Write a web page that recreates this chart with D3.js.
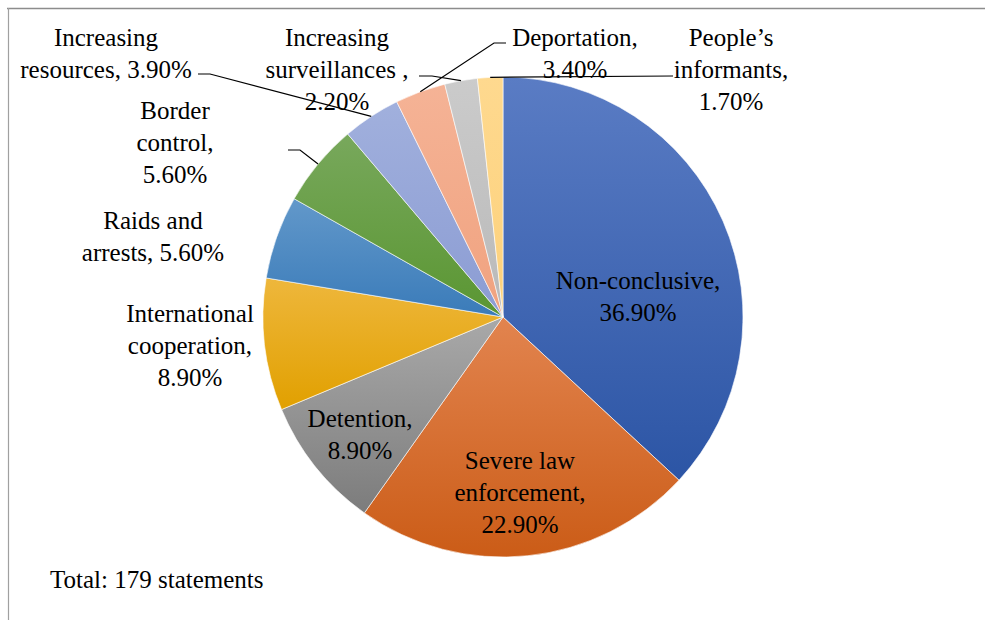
<!DOCTYPE html>
<html>
<head>
<meta charset="utf-8">
<script src="https://cdn.jsdelivr.net/npm/d3@7"></script>
<style>
  html, body { margin: 0; padding: 0; background: #fff; }
  svg { display: block; }
</style>
</head>
<body>
<svg id="chart" width="985" height="620"></svg>
<script>
// ---- data ----
const categories = [
  "Non-conclusive", "Severe law enforcement", "Detention", "International cooperation",
  "Raids and arrests", "Border control", "Increasing resources", "Deportation",
  "Increasing surveillances", "People\u2019s informants"
];
const values = [36.9, 22.9, 8.9, 8.9, 5.6, 5.6, 3.9, 3.4, 2.2, 1.7];
const valueLabels = ["36.90%", "22.90%", "8.90%", "8.90%", "5.60%", "5.60%", "3.90%", "3.40%", "2.20%", "1.70%"];
const totalNote = "Total: 179 statements";

// ---- styles ----
const topColors = ["#5a7cc4", "#e2844f", "#a9a9a9", "#eeb73c", "#6298ca", "#78a85c", "#a1b0dd", "#f5b396", "#cbcbcb", "#fed98f"];
const bottomColors = ["#2c55a5", "#cb5c17", "#7c7c7c", "#e1a000", "#3a7bb9", "#5a9632", "#8b9cd3", "#f0a27f", "#b9b9b9", "#fdd17b"];
const FONT = "'Liberation Serif', 'Times New Roman', Times, serif";

// ---- layout (label text lines and positions) ----
const labelLayout = [
  { lines: ["Non-conclusive,", "36.90%"], x: 638, y: 289 },
  { lines: ["Severe law", "enforcement,", "22.90%"], x: 520, y: 469 },
  { lines: ["Detention,", "8.90%"], x: 360, y: 427 },
  { lines: ["International", "cooperation,", "8.90%"], x: 190, y: 322 },
  { lines: ["Raids and", "arrests, 5.60%"], x: 153, y: 229 },
  { lines: ["Border", "control,", "5.60%"], x: 175, y: 119, leader: [[288, 150], [300, 150]] },
  { lines: ["Increasing", "resources, 3.90%"], x: 106, y: 46, leader: [[198, 74], [210, 74]] },
  { lines: ["Deportation,", "3.40%"], x: 575, y: 46, leader: [[506, 43], [494, 43]] },
  { lines: ["Increasing", "surveillances ,", "2.20%"], x: 337, y: 46, leader: [[419, 76], [432, 76]] },
  { lines: ["People\u2019s", "informants,", "1.70%"], x: 731, y: 46, leader: [[673, 76], [673, 76]] }
];

const W = 985, H = 620;
const cx = 503, cy = 317, R = 240;
const lineH = 32;

const svg = d3.select("#chart");

// frame lines
svg.append("line").attr("x1", 7).attr("x2", W).attr("y1", 8.5).attr("y2", 8.5)
  .attr("stroke", "#8c8c8c").attr("stroke-width", 1.5);
svg.append("line").attr("x1", 8.5).attr("x2", 8.5).attr("y1", 8).attr("y2", H)
  .attr("stroke", "#a0a0a0").attr("stroke-width", 1.2);

// gradients
const defs = svg.append("defs");
categories.forEach((c, i) => {
  const g = defs.append("linearGradient").attr("id", "grad" + i)
    .attr("x1", 0).attr("y1", 0).attr("x2", 0).attr("y2", 1);
  g.append("stop").attr("offset", "0%").attr("stop-color", topColors[i]);
  g.append("stop").attr("offset", "100%").attr("stop-color", bottomColors[i]);
});

const pie = d3.pie().sort(null).value(d => d).startAngle(0).endAngle(2 * Math.PI);
const arcs = pie(values);
const arc = d3.arc().innerRadius(0).outerRadius(R);

const g = svg.append("g").attr("transform", `translate(${cx},${cy})`);
g.selectAll("path.slice").data(arcs).enter().append("path")
  .attr("class", "slice")
  .attr("d", arc)
  .attr("fill", (d, i) => `url(#grad${i})`)
  .attr("stroke", "#ffffff").attr("stroke-width", 0.6);

// leader lines
arcs.forEach((d, i) => {
  const L = labelLayout[i];
  if (!L.leader) return;
  const mid = (d.startAngle + d.endAngle) / 2;
  const ex = cx + R * Math.sin(mid), ey = cy - R * Math.cos(mid);
  const pts = L.leader.concat([[ex, ey]]);
  svg.append("path")
    .attr("d", d3.line()(pts))
    .attr("fill", "none").attr("stroke", "#000").attr("stroke-width", 1.2);
});

// labels
labelLayout.forEach((L, i) => {
  const t = svg.append("text").attr("text-anchor", "middle")
    .style("font-family", FONT).style("font-size", "25px").attr("fill", "#000");
  L.lines.forEach((ln, k) => {
    t.append("tspan").attr("x", L.x).attr("y", L.y + k * lineH).text(ln);
  });
});

svg.append("text").attr("x", 50).attr("y", 588)
  .style("font-family", FONT).style("font-size", "25px").attr("fill", "#000")
  .text(totalNote);
</script>
</body>
</html>
